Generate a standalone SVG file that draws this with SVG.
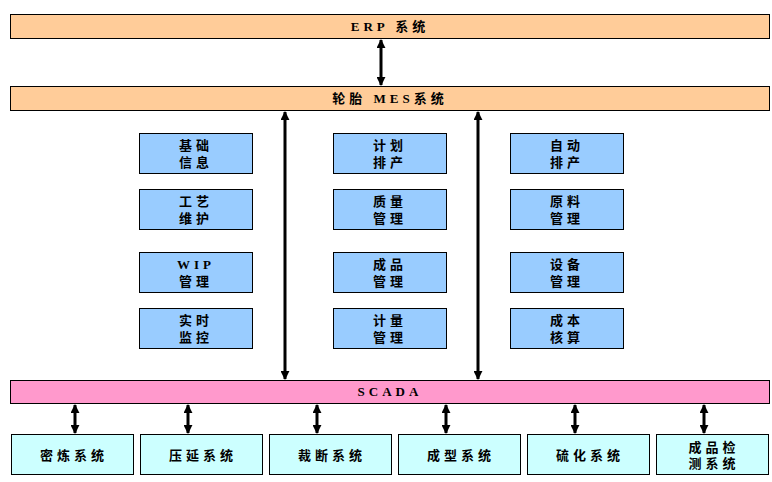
<svg xmlns="http://www.w3.org/2000/svg" width="772" height="482" viewBox="0 0 772 482">
<style>
text{font-family:"Liberation Serif","Noto Sans CJK SC",serif;font-weight:bold;font-size:13px;text-anchor:middle;fill:#000;letter-spacing:4px}
.bar{stroke:#000;stroke-width:1}
.or{fill:#FFCC99}.bl{fill:#99CCFF}.pk{fill:#FF99CC}.cy{fill:#CCFFFF}
.c{stroke:#000;stroke-width:3;fill:none;marker-start:url(#a);marker-end:url(#a)}
</style>
<defs><marker id="a" viewBox="0 0 10 10" refX="9" refY="5" markerWidth="3.2" markerHeight="3" orient="auto-start-reverse" markerUnits="strokeWidth"><path d="M0,0L10,5L0,10z" fill="#000"/></marker></defs>
<rect width="772" height="482" fill="#fff"/>
<g id="erp"><rect class="bar or" x="10.5" y="14.5" width="759" height="24"/><text x="390" y="31">ERP 系统</text></g>
<g id="mes"><rect class="bar or" x="10.5" y="86.5" width="759" height="24"/><text x="390" y="103">轮胎 MES系统</text></g>
<g id="scada"><rect class="bar pk" x="10.5" y="380.5" width="759" height="23"/><text x="390" y="396">SCADA</text></g>
<g id="n1"><rect class="bar bl" x="139.5" y="133.5" width="113" height="40"/><text x="196" y="150">基础</text><text x="196" y="167">信息</text></g>
<g id="n2"><rect class="bar bl" x="139.5" y="189.5" width="113" height="40"/><text x="196" y="206">工艺</text><text x="196" y="223">维护</text></g>
<g id="n3"><rect class="bar bl" x="139.5" y="252.5" width="113" height="40"/><text x="196" y="269">WIP</text><text x="196" y="286">管理</text></g>
<g id="n4"><rect class="bar bl" x="139.5" y="308.5" width="113" height="40"/><text x="196" y="325">实时</text><text x="196" y="342">监控</text></g>
<g id="n5"><rect class="bar bl" x="333.5" y="133.5" width="113" height="40"/><text x="390" y="150">计划</text><text x="390" y="167">排产</text></g>
<g id="n6"><rect class="bar bl" x="333.5" y="189.5" width="113" height="40"/><text x="390" y="206">质量</text><text x="390" y="223">管理</text></g>
<g id="n7"><rect class="bar bl" x="333.5" y="252.5" width="113" height="40"/><text x="390" y="269">成品</text><text x="390" y="286">管理</text></g>
<g id="n8"><rect class="bar bl" x="333.5" y="308.5" width="113" height="40"/><text x="390" y="325">计量</text><text x="390" y="342">管理</text></g>
<g id="n9"><rect class="bar bl" x="510.5" y="133.5" width="113" height="40"/><text x="567" y="150">自动</text><text x="567" y="167">排产</text></g>
<g id="n10"><rect class="bar bl" x="510.5" y="189.5" width="113" height="40"/><text x="567" y="206">原料</text><text x="567" y="223">管理</text></g>
<g id="n11"><rect class="bar bl" x="510.5" y="252.5" width="113" height="40"/><text x="567" y="269">设备</text><text x="567" y="286">管理</text></g>
<g id="n12"><rect class="bar bl" x="510.5" y="308.5" width="113" height="40"/><text x="567" y="325">成本</text><text x="567" y="342">核算</text></g>
<g id="b1"><rect class="bar cy" x="11.5" y="434.5" width="122" height="40"/><text x="74" y="460">密炼系统</text></g>
<g id="b2"><rect class="bar cy" x="140.5" y="434.5" width="122" height="40"/><text x="203" y="460">压延系统</text></g>
<g id="b3"><rect class="bar cy" x="269.5" y="434.5" width="122" height="40"/><text x="332" y="460">裁断系统</text></g>
<g id="b4"><rect class="bar cy" x="398.5" y="434.5" width="122" height="40"/><text x="461" y="460">成型系统</text></g>
<g id="b5"><rect class="bar cy" x="527.5" y="434.5" width="122" height="40"/><text x="590" y="460">硫化系统</text></g>
<g id="b6"><rect class="bar cy" x="656.5" y="434.5" width="112" height="40"/><text x="714" y="452">成品检</text><text x="714" y="468">测系统</text></g>
<g id="connectors">
<line class="c" x1="381" y1="40" x2="381" y2="85"/>
<line class="c" x1="285" y1="112" x2="285" y2="379"/>
<line class="c" x1="478" y1="112" x2="478" y2="379"/>
<line class="c" x1="75" y1="405" x2="75" y2="433"/>
<line class="c" x1="188" y1="405" x2="188" y2="433"/>
<line class="c" x1="317" y1="405" x2="317" y2="433"/>
<line class="c" x1="446" y1="405" x2="446" y2="433"/>
<line class="c" x1="575" y1="405" x2="575" y2="433"/>
<line class="c" x1="704" y1="405" x2="704" y2="433"/>
</g>
</svg>
